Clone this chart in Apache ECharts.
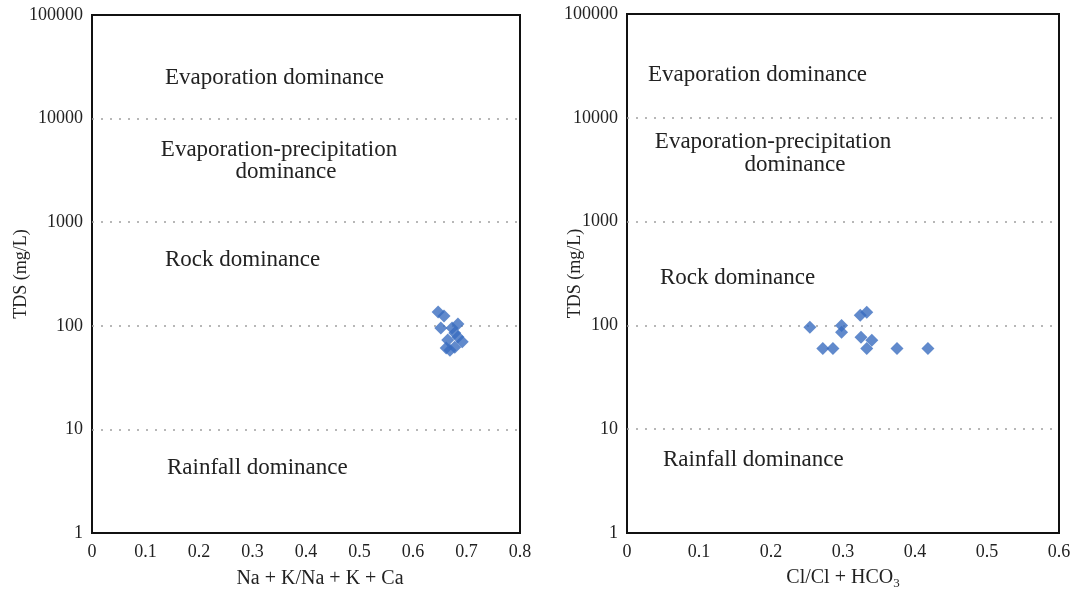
<!DOCTYPE html>
<html><head><meta charset="utf-8">
<script src="https://cdn.jsdelivr.net/npm/echarts@6/dist/echarts.min.js"></script>
<style>html,body{margin:0;padding:0;background:#fff}#c{width:1076px;height:594px}</style>
</head><body><div id="c"></div>
<script>
// Gibbs diagram data
const leftX = [0.647, 0.658, 0.652, 0.673, 0.684, 0.678, 0.665, 0.684, 0.662, 0.678, 0.692, 0.669];
const leftY = [136, 124, 95, 95, 104, 85, 73, 78, 61, 62, 70, 58];
const rightX = [0.254, 0.272, 0.286, 0.298, 0.298, 0.324, 0.333, 0.325, 0.340, 0.333, 0.375, 0.418];
const rightY = [96, 60, 60, 100, 86, 125, 134, 77, 72, 60, 60, 60];
const leftXTicks = [0, 0.1, 0.2, 0.3, 0.4, 0.5, 0.6, 0.7, 0.8];
const rightXTicks = [0, 0.1, 0.2, 0.3, 0.4, 0.5, 0.6];
const yTicks = [1, 10, 100, 1000, 10000, 100000];
const xNameLeft = 'Na + K/Na + K + Ca';
const xNameRight = 'Cl/Cl + HCO{s|3}';
const yName = 'TDS (mg/L)';
const zoneLabels = ['Evaporation dominance', 'Evaporation-precipitation', 'dominance', 'Rock dominance', 'Rainfall dominance'];

const FONT = '"Liberation Serif", "DejaVu Serif", serif';
const chart = echarts.init(document.getElementById('c'));

function yAxis(gi, gap) {
  return {
    type: 'log', logBase: 10, min: 1, max: 100000, gridIndex: gi,
    name: yName, nameLocation: 'middle', nameGap: gap, nameRotate: 90, nameMoveOverlap: false,
    nameTextStyle: {fontFamily: FONT, fontSize: 18, color: '#222'},
    axisLine: {show: false}, axisTick: {show: false},
    axisLabel: {fontFamily: FONT, fontSize: 18, color: '#222', margin: 9,
      formatter: v => String(Math.round(v))},
    splitLine: {show: true, showMinLine: false, showMaxLine: false,
      lineStyle: {color: '#a0a0a0', type: [2, 7], width: 1.6}}
  };
}
function xAxis(gi, ticks, name, pad, gap) {
  return {
    type: 'value', min: 0, max: ticks[ticks.length - 1], interval: 0.1, gridIndex: gi,
    name: name, nameLocation: 'middle', nameGap: gap, nameMoveOverlap: false,
    nameTextStyle: {fontFamily: FONT, fontSize: 20, color: '#222', padding: pad,
      rich: {s: {fontFamily: FONT, fontSize: 13, color: '#222', padding: [12, 0, 0, 0]}}},
    axisLine: {show: false}, axisTick: {show: false}, splitLine: {show: false},
    axisLabel: {fontFamily: FONT, fontSize: 18, color: '#222', margin: 10,
      formatter: v => String(Math.round(v * 10) / 10)}
  };
}

function zt(x, y, text, align) {
  return {type: 'text', x: x, y: y, z: 10,
    style: {text: text, font: '23px ' + FONT, fill: '#222', align: align || 'left', verticalAlign: 'middle'}};
}

chart.setOption({
  animation: false,
  grid: [
    {left: 92, top: 15, width: 428, height: 518, show: true, borderColor: '#111', borderWidth: 2,
      backgroundColor: 'transparent', outerBoundsMode: 'none', containLabel: false},
    {left: 627, top: 14, width: 432, height: 519, show: true, borderColor: '#111', borderWidth: 2,
      backgroundColor: 'transparent', outerBoundsMode: 'none', containLabel: false}
  ],
  xAxis: [xAxis(0, leftXTicks, xNameLeft, [0, 0, 0, 28], 36), xAxis(1, rightXTicks, xNameRight, [0, 0, 0, 0], 32)],
  yAxis: [yAxis(0, 62), yAxis(1, 43)],
  series: [
    {type: 'scatter', xAxisIndex: 0, yAxisIndex: 0, symbol: 'diamond', symbolSize: 13,
      itemStyle: {color: '#3a6dbf'}, data: leftX.map((x, i) => [x, leftY[i]])},
    {type: 'scatter', xAxisIndex: 1, yAxisIndex: 1, symbol: 'diamond', symbolSize: 13,
      itemStyle: {color: '#3a6dbf'}, data: rightX.map((x, i) => [x, rightY[i]])}
  ],
  graphic: [
    zt(165, 78, zoneLabels[0]),
    zt(279, 150, zoneLabels[1], 'center'),
    zt(286, 172, zoneLabels[2], 'center'),
    zt(165, 260, zoneLabels[3]),
    zt(167, 468, zoneLabels[4]),
    zt(648, 75, zoneLabels[0]),
    zt(773, 142, zoneLabels[1], 'center'),
    zt(795, 165, zoneLabels[2], 'center'),
    zt(660, 278, zoneLabels[3]),
    zt(663, 460, zoneLabels[4])
  ]
});
</script></body></html>
